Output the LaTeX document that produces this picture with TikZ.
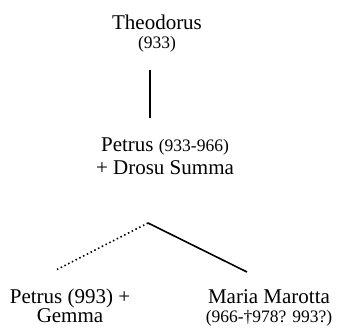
\documentclass[tikz,border=0pt]{standalone}
\usepackage{fontspec}
\setmainfont{Liberation Serif}
\newcommand{\bigtxt}{\fontsize{21}{19}\selectfont}
\newcommand{\smalltxt}{\fontsize{17.5}{19}\selectfont}
\begin{document}
\begin{tikzpicture}[x=1pt,y=1pt,
  person/.style={inner sep=0pt, align=center, anchor=base, font=\bigtxt},
  kin/.style={line width=1.6pt},
  uncertain/.style={line width=1.6pt, dash pattern=on 1.5pt off 2.7pt}]
  \useasboundingbox (0,0) rectangle (337,331);

  % family members (anchored on the baseline of their last line)
  \node[person] (theo) at (157,282) {Theodorus\\{\smalltxt(933)}};
  \node[person] (petrus) at (165,156) {Petrus {\smalltxt(933-966)}\\[4pt]+ Drosu Summa};
  \node[person] (son) at (70,8) {Petrus (993) +\\Gemma};
  \node[person] (maria) at (269,8) {Maria Marotta\\{\smalltxt(966-\textdagger978? 993?)}};

  % descent lines
  \coordinate (fork) at (148,108);
  \coordinate (sonEnd) at (56,61);
  \coordinate (mariaEnd) at (247,59);
  \draw[kin] (150,261) coordinate (theoEnd) -- (150,213) coordinate (petrusEnd);
  \draw[uncertain] (fork) -- (sonEnd);
  \draw[kin] (fork) -- (mariaEnd);
\end{tikzpicture}
\end{document}
